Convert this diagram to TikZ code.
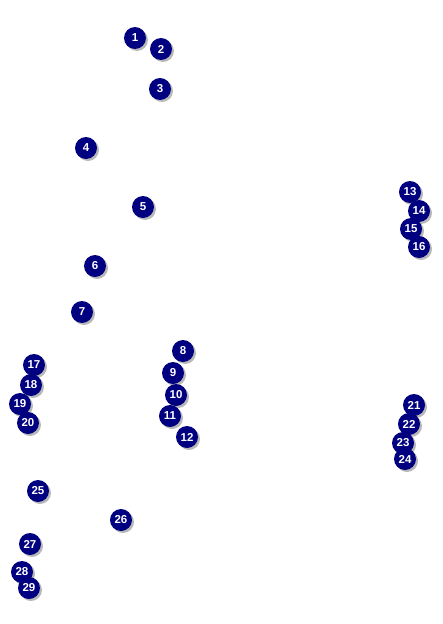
\documentclass[tikz,border=0pt]{standalone}
\usepackage{fontspec}
\setmainfont{Liberation Sans}
\usetikzlibrary{shadows}
\definecolor{navyblue}{RGB}{0,0,128}

\begin{document}
\begin{tikzpicture}[x=1pt, y=-1pt,
  spot/.style={circle, fill=navyblue, inner sep=0pt, minimum size=22pt,
    text=white, font=\fontsize{11.5}{11.5}\selectfont\bfseries,
    drop shadow={shadow xshift=2pt, shadow yshift=-2pt, fill=gray!70, opacity=0.8}}]
  \useasboundingbox (0,0) rectangle (442,624);
  % numbered spots, n/x/y in pixels from the top left corner
  \foreach \n/\x/\y in {1/135/38, 2/161/49, 3/160/89, 4/86/148, 5/143/207,
      6/95/266, 7/82/312, 8/183/351, 9/173/373, 10/176/395, 11/170/416,
      12/187/437, 13/410/192, 14/419/211, 15/411/229, 16/419/247,
      17/34/365, 18/31/385, 19/20/404, 20/28/423, 21/414/405, 22/409/424,
      23/403/443, 24/405/459, 25/38/491, 26/121/520, 27/30/544,
      28/22/572, 29/29/588}
    \node[spot] (s\n) at (\x,\y) {\n};
\end{tikzpicture}
\end{document}
